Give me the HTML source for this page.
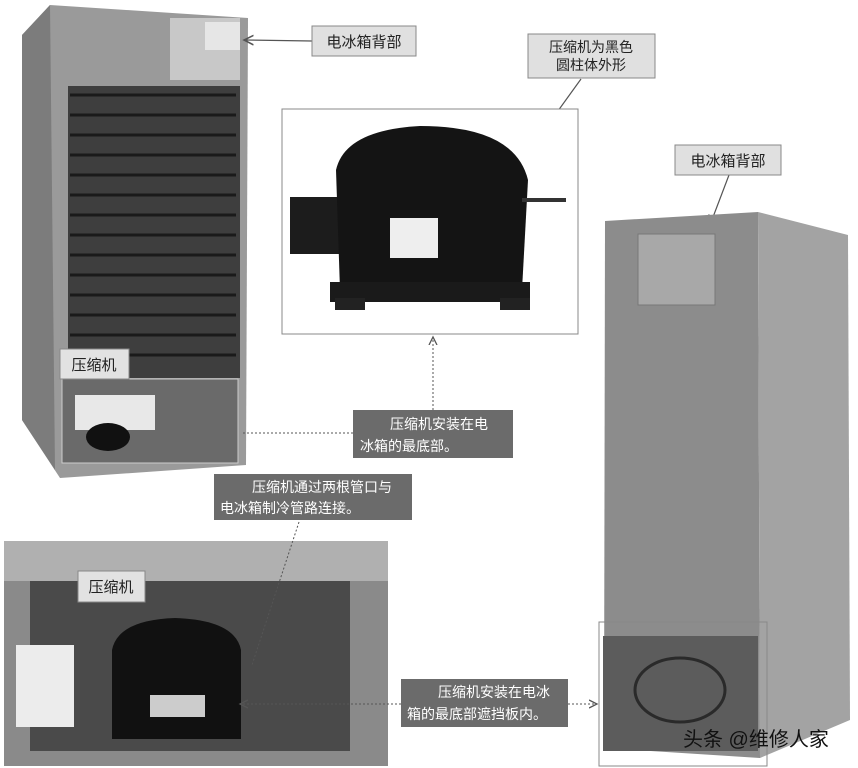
<!DOCTYPE html>
<html><head><meta charset="utf-8"><style>
body{margin:0;background:#fff;}
svg{display:block;font-family:"Liberation Sans","Noto Sans CJK SC",sans-serif;}
</style></head><body>
<svg width="858" height="768" viewBox="0 0 858 768">
<defs>
<marker id="ar" markerWidth="10" markerHeight="10" refX="8" refY="5" orient="auto"><path d="M0,1 L8,5 L0,9" fill="none" stroke="#555" stroke-width="1.3"/></marker>
</defs>
<!-- left fridge -->
<polygon points="22,35 50,5 248,18 246,465 60,478 22,420" fill="#9a9a9a"/>
<polygon points="22,35 50,5 55,470 22,420" fill="#7c7c7c"/>
<rect x="170" y="18" width="70" height="62" fill="#c8c8c8"/>
<rect x="205" y="22" width="35" height="28" fill="#e6e6e6"/>
<rect x="68" y="86" width="172" height="292" fill="#3e3e3e"/>
<g stroke="#1a1a1a" stroke-width="3" fill="none">
<path d="M70,95 H236 M70,115 H236 M70,135 H236 M70,155 H236 M70,175 H236 M70,195 H236 M70,215 H236 M70,235 H236 M70,255 H236 M70,275 H236 M70,295 H236 M70,315 H236 M70,335 H236 M70,355 H236"/>
</g>
<rect x="62" y="379" width="176" height="84" fill="#6a6a6a" stroke="#ccc"/>
<rect x="75" y="395" width="80" height="35" fill="#e8e8e8"/>
<ellipse cx="108" cy="437" rx="22" ry="14" fill="#111"/>
<rect x="60" y="349" width="69" height="30" fill="#e2e2e2" stroke="#888"/>
<text x="94" y="370" font-size="15" text-anchor="middle" fill="#222">压缩机</text>
<!-- label 1 -->
<line x1="312" y1="41" x2="244" y2="40" stroke="#555" stroke-width="1.2" marker-end="url(#ar)"/>
<rect x="312" y="26" width="104" height="30" fill="#e0e0e0" stroke="#888"/>
<text x="364" y="47" font-size="15" text-anchor="middle" fill="#222">电冰箱背部</text>
<!-- label 2 -->
<rect x="528" y="34" width="127" height="44" fill="#e0e0e0" stroke="#888"/>
<text x="591" y="52" font-size="14" text-anchor="middle" fill="#222">压缩机为黑色</text>
<text x="591" y="70" font-size="14" text-anchor="middle" fill="#222">圆柱体外形</text>
<line x1="581" y1="79" x2="537" y2="140" stroke="#555" stroke-width="1.2" marker-end="url(#ar)"/>
<!-- compressor photo -->
<rect x="282" y="109" width="296" height="225" fill="#fff" stroke="#888"/>
<rect x="290" y="197" width="50" height="57" fill="#1c1c1c"/>
<path d="M336,170 Q345,130 420,126 Q515,126 528,180 L522,290 L340,290 Z" fill="#141414"/>
<rect x="330" y="282" width="200" height="20" fill="#1a1a1a"/>
<rect x="335" y="298" width="30" height="12" fill="#222"/>
<rect x="500" y="298" width="30" height="12" fill="#222"/>
<line x1="522" y1="200" x2="566" y2="200" stroke="#333" stroke-width="4"/>
<rect x="390" y="218" width="48" height="40" fill="#eee"/>
<!-- right fridge -->
<line x1="729" y1="175" x2="710" y2="225" stroke="#555" stroke-width="1.2" marker-end="url(#ar)"/>
<rect x="675" y="145" width="106" height="30" fill="#e0e0e0" stroke="#888"/>
<text x="728" y="166" font-size="15" text-anchor="middle" fill="#222">电冰箱背部</text>
<polygon points="605,221 758,212 760,758 604,748" fill="#8c8c8c"/>
<polygon points="758,212 848,235 850,720 760,758" fill="#a3a3a3"/>
<rect x="638" y="234" width="77" height="71" fill="#a8a8a8" stroke="#777"/>
<rect x="603" y="636" width="155" height="115" fill="#5c5c5c"/>
<ellipse cx="680" cy="690" rx="45" ry="32" fill="none" stroke="#2a2a2a" stroke-width="3"/>
<rect x="599" y="622" width="168" height="144" fill="none" stroke="#888"/>
<!-- dark label 1 -->
<line x1="433" y1="410" x2="433" y2="337" stroke="#555" stroke-dasharray="2,2" marker-end="url(#ar)"/>
<line x1="353" y1="433" x2="241" y2="433" stroke="#555" stroke-dasharray="2,2"/>
<rect x="353" y="410" width="160" height="48" fill="#6b6b6b"/>
<text x="390" y="429" font-size="14" fill="#fff">压缩机安装在电</text>
<text x="360" y="451" font-size="14" fill="#fff">冰箱的最底部。</text>
<!-- dark label 2 -->
<rect x="214" y="474" width="198" height="46" fill="#6b6b6b"/>
<text x="252" y="492" font-size="14" fill="#fff">压缩机通过两根管口与</text>
<text x="220" y="513" font-size="14" fill="#fff">电冰箱制冷管路连接。</text>
<!-- bottom photo -->
<rect x="4" y="541" width="384" height="225" fill="#8a8a8a"/>
<rect x="4" y="541" width="384" height="40" fill="#b0b0b0"/>
<rect x="30" y="581" width="320" height="170" fill="#4a4a4a"/>
<rect x="16" y="645" width="58" height="82" fill="#ececec"/>
<path d="M112,650 Q118,620 175,618 Q235,620 241,650 L241,739 L112,739 Z" fill="#111"/>
<rect x="150" y="695" width="55" height="22" fill="#ccc"/>
<rect x="78" y="571" width="67" height="31" fill="#e2e2e2" stroke="#888"/>
<text x="111" y="592" font-size="15" text-anchor="middle" fill="#222">压缩机</text>
<line x1="299" y1="522" x2="252" y2="665" stroke="#555" stroke-dasharray="2,2"/>
<!-- dark label 3 -->
<line x1="401" y1="704" x2="240" y2="704" stroke="#555" stroke-dasharray="2,2" marker-end="url(#ar)"/>
<line x1="568" y1="704" x2="597" y2="704" stroke="#555" stroke-dasharray="2,2" marker-end="url(#ar)"/>
<rect x="401" y="679" width="167" height="48" fill="#6b6b6b"/>
<text x="438" y="697" font-size="14" fill="#fff">压缩机安装在电冰</text>
<text x="407" y="719" font-size="14" fill="#fff">箱的最底部遮挡板内。</text>
<text x="683" y="746" font-size="20" fill="#111">头条 @维修人家</text>
</svg>
</body></html>
